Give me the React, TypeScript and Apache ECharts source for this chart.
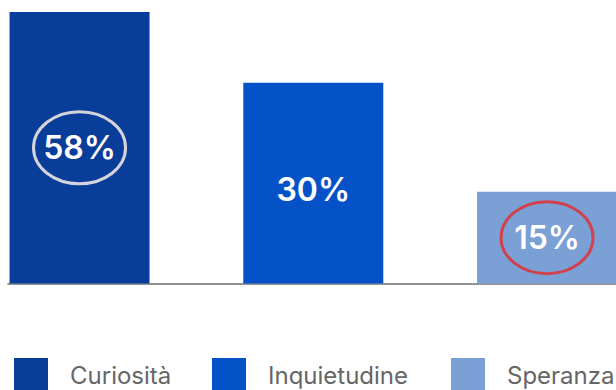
import React, { useEffect, useRef } from "react";
import * as echarts from "echarts";

const categories = ["Curiosità", "Inquietudine", "Speranza"];
const xPositions = [0, 1, 2];
// bar heights as drawn in the picture (scaled so the first bar = 58)
const barHeights = [58, 42.9, 19.6];
const percentLabels = [58, 30, 15];
const circledIndices = [0, 2];

const barColors = ["#093d9a", "#0552c8", "#7ba0d6"];
const ringColors = ["#d4d4da", "#d2414b"];
const legendLefts = [9, 207, 446];
const FONT = "Inter, 'Noto Sans', sans-serif";

export default function App() {
  const ref = useRef<HTMLDivElement>(null);
  useEffect(() => {
    if (!ref.current) return;
    const chart = echarts.init(ref.current, null, { renderer: "svg" });
    const barSeries = categories.map((name, i) => ({
      type: "bar",
      name,
      stack: "all",
      barWidth: 140,
      data: [[xPositions[i], barHeights[i]]],
      itemStyle: { color: barColors[i] },
      label: {
        show: true,
        position: "inside",
        offset: i === 1 ? [0, 6] : [0, 0],
        formatter: () => percentLabels[i] + "%",
        color: "#ffffff",
        fontSize: 32,
        fontWeight: 600,
        fontFamily: FONT,
      },
      z: 2,
    }));
    const ringSeries = {
      type: "custom",
      name: "rings",
      z: 4,
      silent: true,
      data: circledIndices.map((i) => [xPositions[i], barHeights[i], i]),
      renderItem: (params: any, api: any) => {
        const x = api.value(0);
        const h = api.value(1);
        const c = api.coord([x, h / 2]);
        return {
          type: "ellipse",
          shape: { cx: c[0], cy: c[1], rx: 46, ry: 36 },
          style: {
            fill: "none",
            stroke: ringColors[params.dataIndex],
            lineWidth: 3,
          },
        };
      },
    };
    chart.setOption({
      animation: false,
      backgroundColor: "#ffffff",
      grid: { left: 8, right: 0, top: 12, bottom: 106.5, containLabel: false },
      xAxis: {
        type: "value",
        min: -0.306,
        max: 2.295,
        axisLine: { show: true, onZero: true, lineStyle: { color: "#6f6f6f", width: 1.5 } },
        axisTick: { show: false },
        axisLabel: { show: false },
        splitLine: { show: false },
      },
      yAxis: {
        type: "value",
        min: 0,
        max: 58,
        show: false,
        splitLine: { show: false },
      },
      legend: categories.map((name, i) => ({
        data: [name],
        left: legendLefts[i],
        top: 353,
        itemWidth: 34,
        itemHeight: 34,
        icon: "rect",
        selectedMode: false,
        textStyle: {
          color: "#666666",
          fontSize: 24,
          fontFamily: FONT,
          padding: [0, 0, 4, 17],
        },
      })),
      series: [...barSeries, ringSeries],
    });
    return () => chart.dispose();
  }, []);
  return (
    <div
      ref={ref}
      style={{ position: "fixed", left: 0, top: 0, width: 616, height: 390 }}
    />
  );
}
